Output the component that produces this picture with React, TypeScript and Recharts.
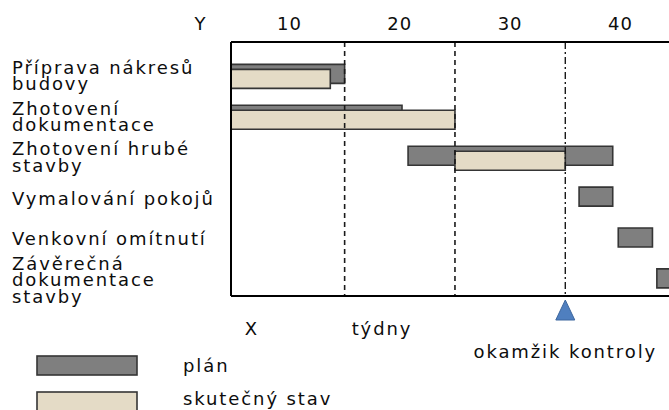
import React from 'react';
import { ComposedChart, Bar, XAxis, YAxis, ReferenceLine } from 'recharts';

// ---- data ----
const tasks = [
  'Příprava nákresů\nbudovy',
  'Zhotovení\ndokumentace',
  'Zhotovení hrubé\nstavby',
  'Vymalování pokojů',
  'Venkovní omítnutí',
  'Závěrečná\ndokumentace\nstavby',
];
const planStart = [4.7, 4.7, 20.75, 36.25, 39.8, 43.3];
const planEnd = [15, 20.2, 39.3, 39.3, 42.9, 47];
const actualStart: (number | null)[] = [4.7, 4.7, 25, null, null, null];
const actualEnd: (number | null)[] = [13.7, 25, 35, null, null, null];
const weekTicks = [10, 20, 30, 40];
const weekDomain: [number, number] = [4.7, 44.4];
const phaseLines = [15, 25];
const checkWeek = 35;

const data = tasks.map((task, i) => ({
  task,
  plan: [planStart[i], planEnd[i]],
  actual: actualStart[i] != null ? [actualStart[i], actualEnd[i]] : null,
}));

// ---- styles ----
const FONT = '"DejaVu Sans", Verdana, sans-serif';
const FS = 18;
const LS = 1.9;
const TXT = '#0d0d0d';
const GRAY = '#7f7f7f';
const BEIGE = '#e4dbc6';
const EDGE = '#353535';

const TaskTick = (props: any) => {
  const { y, payload } = props;
  const lines = String(payload.value).split('\n');
  const lh = 16.5;
  const y0 = y - ((lines.length - 1) * lh) / 2 + 5;
  return (
    <text fontFamily={FONT} fontSize={FS} letterSpacing={LS} fill={TXT}>
      {lines.map((l, i) => (
        <tspan key={i} x={12} y={y0 + i * lh}>
          {l}
        </tspan>
      ))}
    </text>
  );
};

const WeekTick = (props: any) => {
  const { x, y, payload } = props;
  return (
    <text x={x} y={y} textAnchor="middle" fontFamily={FONT} fontSize={FS} letterSpacing={1} fill={TXT}>
      {payload.value}
    </text>
  );
};

const CheckTick = (props: any) => {
  const { x, y } = props;
  return (
    <g>
      <polygon
        points={`${x},${y} ${x - 9.5},${y + 20} ${x + 9.5},${y + 20}`}
        fill="#4f7fbf"
        stroke="#3d679e"
        strokeWidth={1}
      />
      <text x={x} y={y + 58} textAnchor="middle" fontFamily={FONT} fontSize={FS} letterSpacing={LS} fill={TXT}>
        okamžik kontroly
      </text>
    </g>
  );
};

export default function App() {
  return (
    <div style={{ position: 'absolute', left: 0, top: 0, width: 669, height: 410, overflow: 'hidden', background: '#fff' }}>
      <ComposedChart
        width={669}
        height={410}
        data={data}
        layout="vertical"
        margin={{ top: 0, right: 0, bottom: 0, left: 0 }}
        barGap={-14}
      >
        <XAxis
          xAxisId="weeks"
          type="number"
          orientation="top"
          domain={weekDomain}
          allowDataOverflow
          ticks={weekTicks}
          height={42}
          tickSize={10}
          tickMargin={2}
          tickLine={false}
          axisLine={{ stroke: '#000', strokeWidth: 2 }}
          tick={<WeekTick />}
        />
        <XAxis
          xAxisId="check"
          type="number"
          orientation="bottom"
          domain={weekDomain}
          allowDataOverflow
          ticks={[checkWeek]}
          height={114}
          tickSize={0}
          tickMargin={4}
          tickLine={false}
          axisLine={{ stroke: '#000', strokeWidth: 2 }}
          tick={<CheckTick />}
        />
        <YAxis
          type="category"
          dataKey="task"
          width={231}
          interval={0}
          padding={{ top: 14.4, bottom: -5.8 }}
          tickLine={false}
          axisLine={{ stroke: '#000', strokeWidth: 2 }}
          tick={<TaskTick />}
        />
        {phaseLines.map((w) => (
          <ReferenceLine key={w} xAxisId="weeks" x={w} stroke="#1a1a1a" strokeWidth={1.6} strokeDasharray="5 4" />
        ))}
        <ReferenceLine xAxisId="weeks" x={checkWeek} stroke="#1a1a1a" strokeWidth={1.4} strokeDasharray="7 3 2 3" />
        <Bar
          xAxisId="weeks"
          dataKey="plan"
          barSize={19}
          fill={GRAY}
          stroke={EDGE}
          strokeWidth={1.6}
          isAnimationActive={false}
        />
        <Bar
          xAxisId="weeks"
          dataKey="actual"
          barSize={19}
          fill={BEIGE}
          stroke={EDGE}
          strokeWidth={1.6}
          isAnimationActive={false}
        />
      </ComposedChart>
      <svg
        width={669}
        height={410}
        style={{ position: 'absolute', left: 0, top: 0, pointerEvents: 'none' }}
        fontFamily={FONT}
        fontSize={FS}
        fill={TXT}
      >
        <text x={200} y={30} textAnchor="middle">Y</text>
        <text x={251} y={335} textAnchor="middle">X</text>
        <text x={382} y={335} textAnchor="middle" letterSpacing={LS}>týdny</text>
        <rect x={37} y={356} width={100} height={19} fill={GRAY} stroke={EDGE} strokeWidth={1.6} />
        <text x={183} y={371.5} letterSpacing={LS}>plán</text>
        <rect x={37} y={392} width={100} height={19} fill={BEIGE} stroke={EDGE} strokeWidth={1.6} />
        <text x={183} y={405} letterSpacing={LS}>skutečný stav</text>
      </svg>
    </div>
  );
}
